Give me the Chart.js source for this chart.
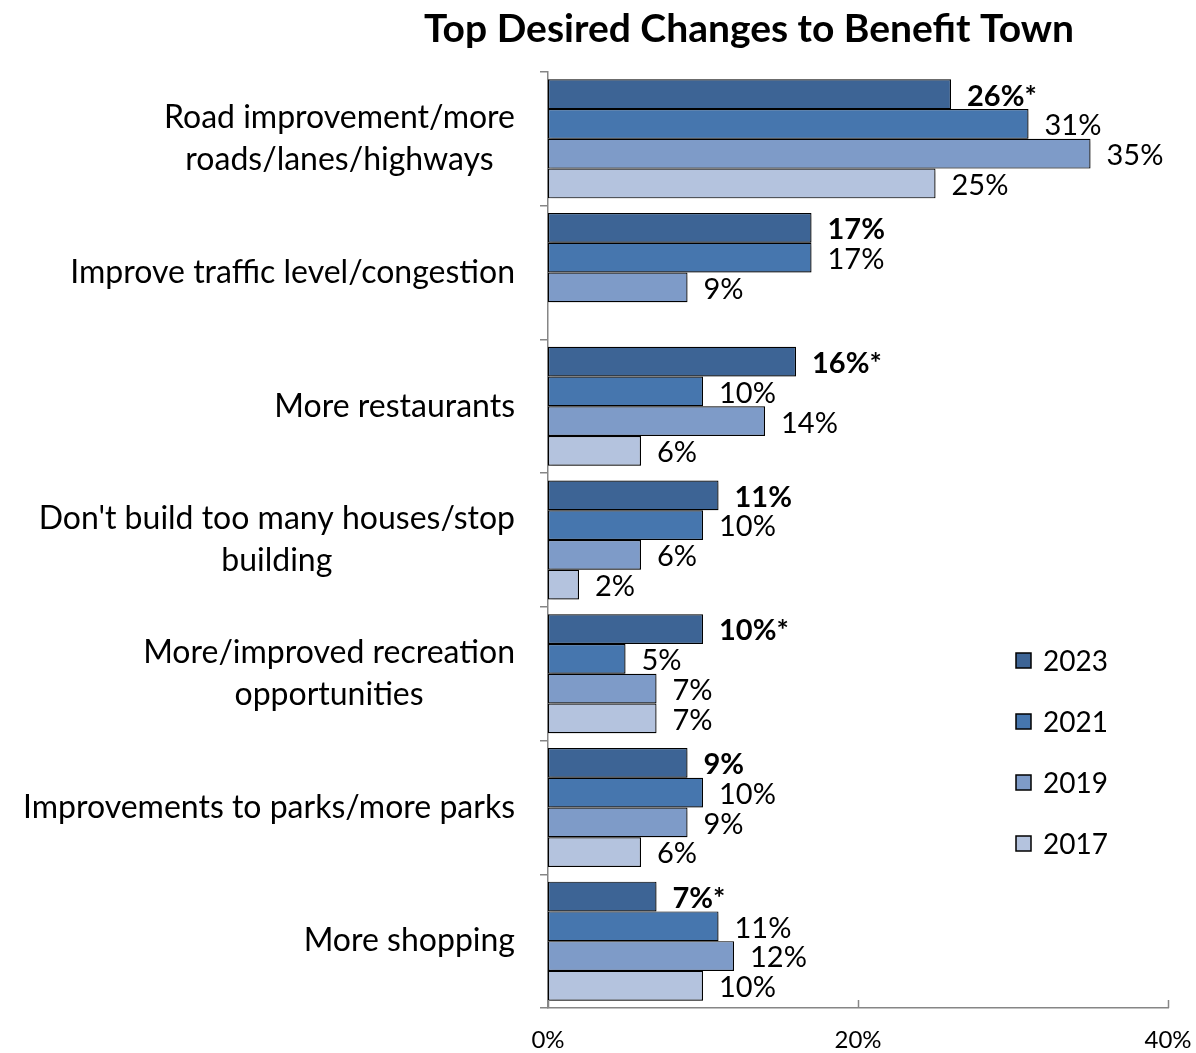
<!DOCTYPE html>
<html>
<head>
<meta charset="utf-8">
<script src="https://cdn.jsdelivr.net/npm/chart.js@4.4.1/dist/chart.umd.min.js"></script>
<style>
  body { margin: 0; background: #fff; }
  #wrap { width: 1196px; height: 1053px; }
</style>
</head>
<body>
<div id="wrap"><canvas id="myChart" width="1196" height="1053"></canvas></div>
<script>
// Kategoriler (çok satırlı etiketler dizi olarak)
const categories = [
    ['Road improvement/more', 'roads/lanes/highways'],
    ['Improve traffic level/congestion'],
    ['More restaurants'],
    ["Don't build too many houses/stop", 'building'],
    ['More/improved recreation', 'opportunities'],
    ['Improvements to parks/more parks'],
    ['More shopping']
];
const years = ['2023', '2021', '2019', '2017'];
const values2023 = [26, 17, 16, 11, 10, 9, 7];
const values2021 = [31, 17, 10, 10, 5, 10, 11];
const values2019 = [35, 9, 14, 6, 7, 9, 12];
const values2017 = [25, null, 6, 2, 7, 6, 10];
// 2023 etiketlerindeki anlamlılık işareti
const sigMarks = ['*', '', '*', '', '*', '', '*'];
const xTicks = [0, 20, 40];

const colors = ['#3d6495', '#4676ae', '#7e9bc8', '#b4c3de'];
const fontFamily = 'Lato, "Open Sans", sans-serif';
const axisGray = '#868686';

const seriesValues = [values2023, values2021, values2019, values2017];

// Başlık, kategori etiketleri, değer etiketleri ve açıklama kutusu
const decorPlugin = {
    id: 'decor',
    beforeDatasetsDraw(chart) {
        const c = chart.ctx;
        c.save();
        c.shadowColor = 'rgba(0,0,0,0.28)';
        c.shadowBlur = 4;
        c.shadowOffsetX = 2;
        c.shadowOffsetY = 2;
    },
    afterDatasetsDraw(chart) {
        const c = chart.ctx;
        c.restore();
        const area = chart.chartArea;
        const yScale = chart.scales.y;
        const xScale = chart.scales.x;

        // x ekseni üzerindeki yukarı bakan çentikler
        c.save();
        c.strokeStyle = axisGray;
        c.lineWidth = 1.5;
        xTicks.forEach(t => {
            const px = Math.round(xScale.getPixelForValue(t)) + 0.5;
            c.beginPath();
            c.moveTo(px, area.bottom);
            c.lineTo(px, area.bottom - 8);
            c.stroke();
        });
        c.restore();

        // değer etiketleri
        c.save();
        c.textAlign = 'left';
        c.textBaseline = 'middle';
        c.fillStyle = '#000';
        chart.data.datasets.forEach((ds, di) => {
            const meta = chart.getDatasetMeta(di);
            meta.data.forEach((bar, i) => {
                const v = ds.data[i];
                if (v === null || v === undefined) return;
                c.font = (di === 0 ? 'bold ' : '') + '29px ' + fontFamily;
                const txt = v + '%' + (di === 0 ? sigMarks[i] : '');
                c.fillText(txt, bar.x + 16, bar.y + 2);
            });
        });
        c.restore();

        // kategori etiketleri (satırlar kendi aralarında ortalı, blok sağa dayalı)
        c.save();
        c.font = '32px ' + fontFamily;
        c.fillStyle = '#000';
        c.textAlign = 'center';
        c.textBaseline = 'middle';
        const lineH = 42;
        const rightEdge = area.left - 33;
        categories.forEach((lines, i) => {
            const cy = yScale.getPixelForValue(i);
            const maxW = Math.max(...lines.map(l => c.measureText(l).width));
            const cx = rightEdge - maxW / 2;
            const y0 = cy - (lines.length - 1) * lineH / 2;
            lines.forEach((l, k) => c.fillText(l, cx, y0 + k * lineH));
        });
        c.restore();

        // başlık
        c.save();
        c.font = 'bold 39px ' + fontFamily;
        c.fillStyle = '#000';
        c.textAlign = 'center';
        c.textBaseline = 'middle';
        c.fillText('Top Desired Changes to Benefit Town', 749, 29);
        c.restore();

        // açıklama
        c.save();
        c.font = '28px ' + fontFamily;
        c.textBaseline = 'middle';
        c.textAlign = 'left';
        years.forEach((yr, i) => {
            const ly = 661 + i * 61;
            c.fillStyle = colors[i];
            c.fillRect(1016, ly - 8, 15, 15);
            c.strokeStyle = '#000';
            c.lineWidth = 1.5;
            c.strokeRect(1016, ly - 8, 15, 15);
            c.fillStyle = '#000';
            c.fillText(yr, 1043, ly + 1);
        });
        c.restore();
    }
};

const ctx = document.getElementById('myChart').getContext('2d');

const myChart = new Chart(ctx, {
    type: 'bar',
    data: {
        labels: categories.map(l => l.join(' ')),
        datasets: years.map((yr, i) => ({
            label: yr,
            data: seriesValues[i],
            backgroundColor: colors[i],
            borderColor: '#000',
            borderWidth: 1.2,
            borderSkipped: false,
            categoryPercentage: 0.89,
            barPercentage: 1
        }))
    },
    options: {
        indexAxis: 'y',
        responsive: false,
        animation: false,
        layout: {
            padding: { left: 540, top: 72, right: 28, bottom: 0 }
        },
        plugins: {
            legend: { display: false },
            tooltip: { enabled: false }
        },
        scales: {
            x: {
                min: 0,
                max: 40,
                afterBuildTicks(scale) {
                    scale.ticks = xTicks.map(v => ({ value: v }));
                },
                afterFit(scale) {
                    scale.height = 45;
                    scale.paddingLeft = 0;
                    scale.paddingRight = 0;
                },
                grid: { display: false },
                border: { display: true, color: axisGray, width: 1.5 },
                ticks: {
                    padding: 10,
                    color: '#000',
                    font: { family: fontFamily, size: 24 },
                    callback: v => v + '%'
                }
            },
            y: {
                afterFit(scale) { scale.width = 8; },
                offset: true,
                grid: {
                    display: true,
                    offset: true,
                    drawOnChartArea: false,
                    drawTicks: true,
                    tickLength: 8,
                    color: axisGray,
                    lineWidth: 1.5
                },
                border: { display: true, color: axisGray, width: 1.5 },
                ticks: { display: false }
            }
        }
    },
    plugins: [decorPlugin]
});
</script>
</body>
</html>
